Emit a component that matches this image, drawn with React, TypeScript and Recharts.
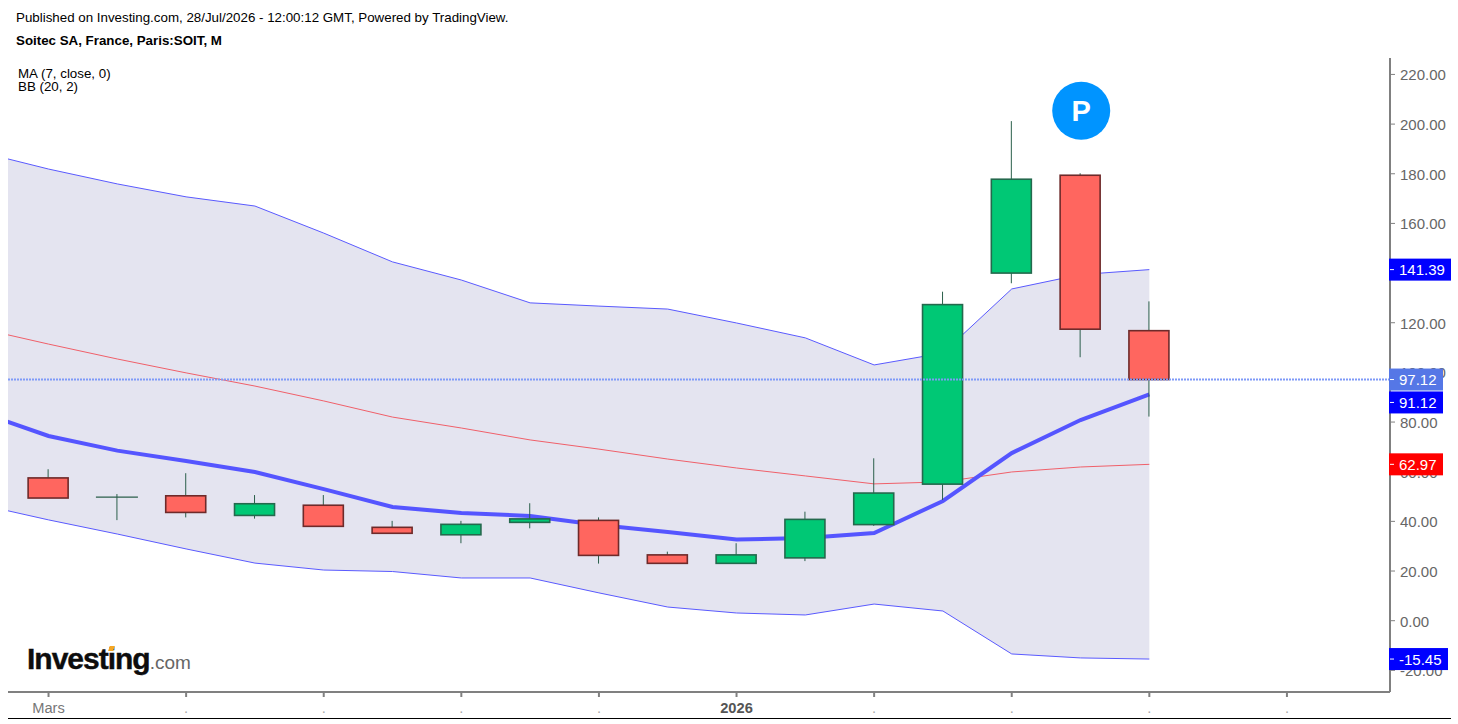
import { Area, Bar, ComposedChart, Line, ReferenceDot, ReferenceLine, XAxis, YAxis } from 'recharts';

const FONT = '"Liberation Sans", Arial, sans-serif';

// monthly candles, first one is Mars
const opens = [57.5, 49.8, 50.3, 42.4, 46.5, 37.6, 34.6, 39.6, 40.4, 26.5, 23.1, 25.3, 38.7, 55.0, 140.0, 179.4, 116.8];
const closes = [49.4, 49.8, 43.6, 47.1, 38.0, 35.2, 38.8, 41.0, 26.3, 23.1, 26.5, 40.8, 51.4, 127.3, 177.8, 117.4, 97.12];
const highs = [61.0, 51.0, 59.4, 50.6, 50.6, 40.2, 40.2, 47.3, 41.6, 27.8, 31.2, 43.9, 65.4, 132.5, 201.2, 180.2, 128.6];
const lows = [49.4, 40.5, 41.6, 41.1, 38.0, 35.2, 31.2, 37.2, 23.0, 23.1, 23.1, 24.0, 38.2, 48.6, 135.9, 106.1, 82.2];

// indicators start one month earlier, the first point is cut by the left edge
const bbUpper = [188.8, 181.9, 175.9, 170.7, 167.0, 156.1, 144.5, 137.2, 128.0, 126.7, 125.5, 119.9, 113.9, 103.0, 107.8, 133.6, 139.4, 141.39];
const bbBasis = [117.7, 111.4, 105.4, 99.8, 94.5, 88.5, 82.0, 77.6, 72.8, 69.1, 65.1, 61.5, 58.3, 55.1, 55.9, 59.9, 61.9, 62.97];
const bbLower = [46.8, 40.6, 34.9, 28.9, 23.2, 20.4, 19.8, 17.2, 17.2, 11.2, 5.5, 3.1, 2.3, 6.7, 3.9, -13.4, -15.0, -15.45];
const ma7 = [84.1, 74.4, 68.5, 64.3, 59.9, 53.0, 45.8, 43.4, 42.2, 38.5, 35.7, 32.7, 33.3, 35.3, 48.2, 67.5, 80.8, 91.12];

const xTicks = [0, 2, 4, 6, 8, 10, 12, 14, 16, 18];
const xTickLabels = ['Mars', '.', '.', '.', '.', '2026', '.', '.', '.', '.'];
const yTicks = [220, 200, 180, 160, 140, 120, 100, 80, 60, 40, 20, 0, -20];

const lastPrice = 97.12;
const priceTags = [
  { value: 141.39, color: '#0000ff' },
  { value: 97.12, color: '#5577e6' },
  { value: 91.12, color: '#0000ff' },
  { value: 62.97, color: '#ff0000' },
  { value: -15.45, color: '#0000ff' },
];

const data: any[] = [];
for (let i = -1; i < 20; i++) {
  const row: any = { idx: i };
  if (i + 1 < bbUpper.length) {
    row.upper = bbUpper[i + 1];
    row.basis = bbBasis[i + 1];
    row.lower = bbLower[i + 1];
    row.band = [bbLower[i + 1], bbUpper[i + 1]];
    row.ma = ma7[i + 1];
  }
  if (i >= 0 && i < opens.length) {
    row.open = opens[i];
    row.close = closes[i];
    row.range = [lows[i], highs[i]];
  }
  data.push(row);
}

function Candle(props: any) {
  const { x, y, width, height, payload } = props;
  if (!payload || payload.open === undefined) return null;
  const high = payload.range[1];
  const low = payload.range[0];
  const pxPerUnit = height / (high - low);
  const top = y + (high - Math.max(payload.open, payload.close)) * pxPerUnit;
  const bottom = y + (high - Math.min(payload.open, payload.close)) * pxPerUnit;
  const up = payload.close >= payload.open;
  const cx = x + width / 2;
  // open == close, a flat rect would not paint
  if (payload.close === payload.open) {
    return (
      <g>
        <line x1={cx} x2={cx} y1={y} y2={y + height} stroke="#2b5f4b" strokeWidth={1} />
        <line x1={x} x2={x + width} y1={top} y2={top} stroke="#2b5f4b" strokeWidth={1.2} />
      </g>
    );
  }
  return (
    <g>
      <line x1={cx} x2={cx} y1={y} y2={y + height} stroke="#2b5f4b" strokeWidth={1} />
      <rect
        x={x + 1}
        y={top}
        width={width - 2}
        height={bottom - top}
        fill={up ? '#00c875' : '#ff665f'}
        stroke={up ? '#24694d' : '#6e2a2a'}
        strokeWidth={1.6}
      />
    </g>
  );
}

function XTick(props: any) {
  const { x, y, payload } = props;
  const label = xTickLabels[xTicks.indexOf(payload.value)];
  const bold = label === '2026';
  return (
    <text
      x={x}
      y={y + 14}
      textAnchor="middle"
      fontFamily={FONT}
      fontSize={14.67}
      fontWeight={bold ? 700 : 400}
      fill={bold ? '#555555' : label === '.' ? '#aaaaaa' : '#777777'}
    >
      {label}
    </text>
  );
}

function YTick(props: any) {
  const { y, payload } = props;
  const left = 1390;
  const tag = priceTags.find((t) => t.value === payload.value);
  if (tag) {
    // the MA tag gets pushed down so it does not sit on the last price tag
    const cy = tag.value === 91.12 ? y + 8 : y;
    const text = tag.value.toFixed(2);
    const w = text.length === 6 && tag.value > 0 ? 61 : tag.value < 0 ? 58 : 53;
    return (
      <g>
        <rect x={left - 1} y={cy - 11} width={w + 1} height={22} fill={tag.color} />
        <line x1={left} x2={left + 4} y1={cy} y2={cy} stroke="#ffffff" />
        <text x={left + 9} y={cy + 5.5} fontFamily={FONT} fontSize={15} fill="#ffffff">
          {text}
        </text>
      </g>
    );
  }
  return (
    <g>
      <line x1={left} x2={left + 5} y1={y} y2={y} stroke="#808080" />
      <text x={left + 10} y={y + 6} fontFamily={FONT} fontSize={15} fill="#666666">
        {payload.value.toFixed(2)}
      </text>
    </g>
  );
}

const textStyle: any = { position: 'absolute', fontFamily: FONT, whiteSpace: 'nowrap', color: '#000' };

export default function App() {
  return (
    <div style={{ position: 'absolute', left: 0, top: 0, width: 1458, height: 724, background: '#fff', overflow: 'hidden' }}>
      <ComposedChart
        width={1458}
        height={724}
        data={data}
        margin={{ top: 58, right: 0, bottom: 0, left: 8 }}
      >
        <XAxis
          dataKey="idx"
          type="number"
          domain={[-0.589, 19.498]}
          allowDataOverflow
          ticks={xTicks}
          interval={0}
          height={32}
          stroke="#808080"
          strokeWidth={2}
          tickSize={5}
          tick={<XTick />}
        />
        <YAxis
          orientation="right"
          type="number"
          domain={[-28.72, 226.62]}
          allowDataOverflow
          ticks={[...yTicks, ...priceTags.map((t) => t.value)]}
          interval={0}
          width={68}
          stroke="#808080"
          strokeWidth={2}
          tickLine={false}
          tick={<YTick />}
        />
        <Area
          dataKey="band"
          type="linear"
          fill="#e4e4f0"
          fillOpacity={1}
          stroke="none"
          dot={false}
          activeDot={false}
          isAnimationActive={false}
        />
        <Line dataKey="upper" type="linear" stroke="#5a5aff" strokeWidth={1} dot={false} activeDot={false} zIndex={150} isAnimationActive={false} />
        <Line dataKey="lower" type="linear" stroke="#5a5aff" strokeWidth={1} dot={false} activeDot={false} zIndex={150} isAnimationActive={false} />
        <Line dataKey="basis" type="linear" stroke="#f0606a" strokeWidth={1} dot={false} activeDot={false} zIndex={150} isAnimationActive={false} />
        <Line dataKey="ma" type="linear" stroke="#5555ff" strokeWidth={4} dot={false} activeDot={false} zIndex={160} isAnimationActive={false} />
        <Bar dataKey="range" barSize={42} shape={<Candle />} isAnimationActive={false} />
        <ReferenceLine y={lastPrice} stroke="#7f9af8" strokeDasharray="2 1" strokeWidth={2} zIndex={350} />
        <ReferenceDot
          x={15.01}
          y={205.4}
          r={29}
          fill="#0094ff"
          stroke="none"
          label={{ value: 'P', position: 'center', fill: '#ffffff', fontSize: 29, fontWeight: 700, fontFamily: FONT }}
        />
      </ComposedChart>

      <div style={{ ...textStyle, left: 16, top: 10, fontSize: 13.33 }}>
        Published on Investing.com, 28/Jul/2026 - 12:00:12 GMT, Powered by TradingView.
      </div>
      <div style={{ ...textStyle, left: 16, top: 33, fontSize: 13.33, fontWeight: 700 }}>
        Soitec SA, France, Paris:SOIT, M
      </div>
      <div style={{ ...textStyle, left: 18, top: 66, fontSize: 13.33 }}>MA (7, close, 0)</div>
      <div style={{ ...textStyle, left: 18, top: 79, fontSize: 13.33 }}>BB (20, 2)</div>

      <div style={{ ...textStyle, left: 27, top: 641, fontSize: 30, lineHeight: '36px', fontWeight: 700, letterSpacing: -1, color: '#0d0d0d', WebkitTextStroke: '0.4px #0d0d0d' }}>
        Investing<span style={{ fontSize: 19, fontWeight: 400, letterSpacing: 0, color: '#666', WebkitTextStroke: '0' }}>.com</span>
      </div>
      <div style={{ position: 'absolute', left: 109, top: 646, width: 5, height: 5, background: '#f5a623', transform: 'skewX(-20deg)' }} />

      <div style={{ position: 'absolute', left: 8, top: 718, width: 1443, height: 1, background: '#000' }} />
    </div>
  );
}
